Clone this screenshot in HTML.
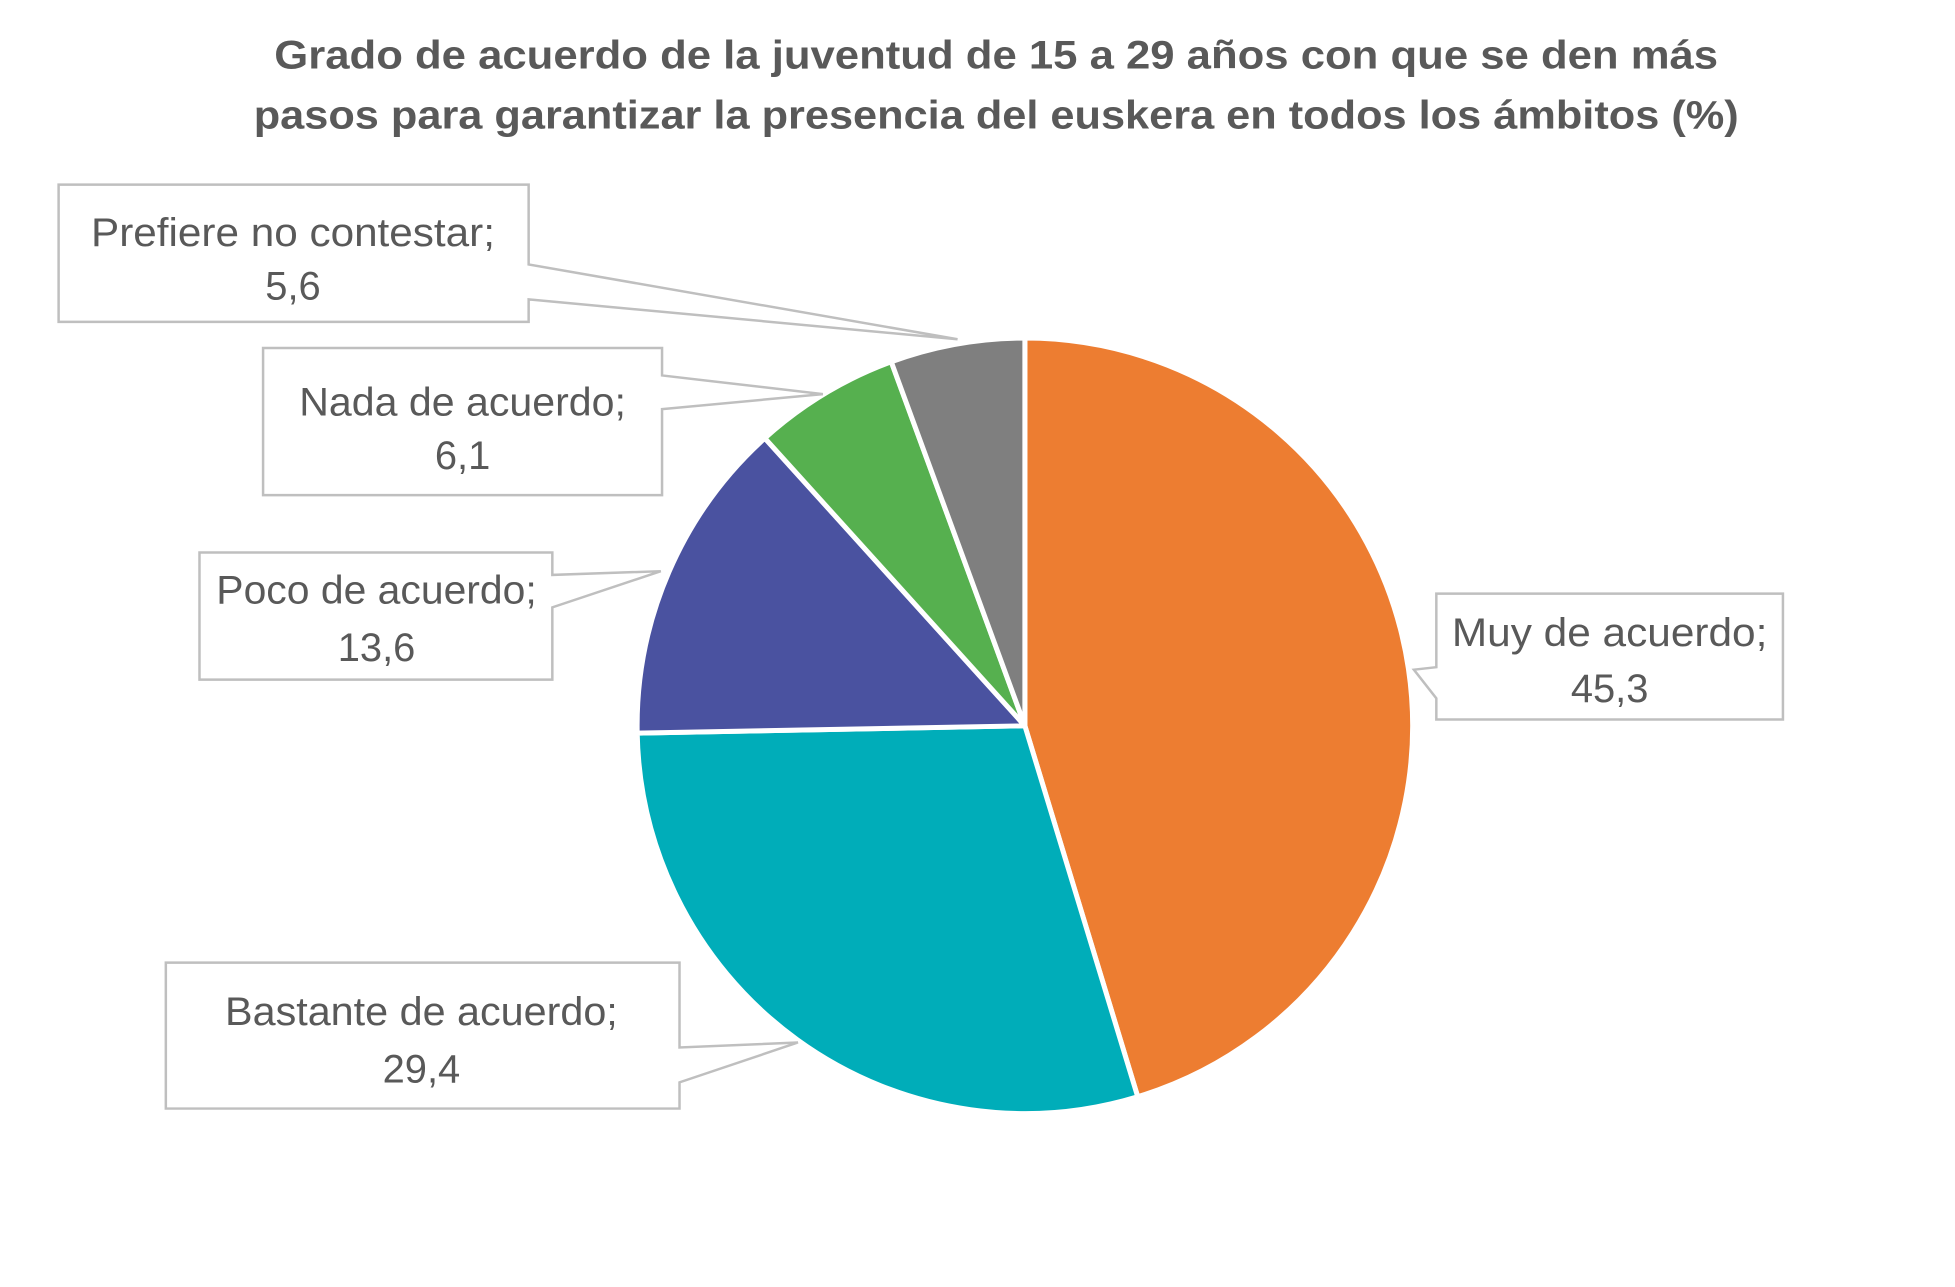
<!DOCTYPE html>
<html><head><meta charset="utf-8"><style>
html,body{margin:0;padding:0;background:#fff;}
svg{display:block;}
text{font-family:"Liberation Sans",sans-serif;fill:#595959;}
</style></head><body>
<svg width="1955" height="1287" viewBox="0 0 1568 1032" xmlns="http://www.w3.org/2000/svg">
<rect width="1568" height="1032" fill="#fff"/>
<text x="799" y="55" text-anchor="middle" font-size="32" font-weight="bold" textLength="1158" lengthAdjust="spacingAndGlyphs">Grado de acuerdo de la juventud de 15 a 29 años con que se den más</text>
<text x="799" y="103" text-anchor="middle" font-size="32" font-weight="bold" textLength="1191" lengthAdjust="spacingAndGlyphs">pasos para garantizar la presencia del euskera en todos los ámbitos (%)</text>
<g id="pie" stroke="#fff" stroke-width="4" stroke-linejoin="round"></g>
<g fill="#fff" stroke="#bfbfbf" stroke-width="2">
<path d="M47,148 H424 V212 L768,272 L424,240 V258 H47 Z"/>
<path d="M211,279 H531 V301 L660,316 L531,328 V397 H211 Z"/>
<path d="M160,443 H443 V461 L530,458 L443,487 V545 H160 Z"/>
<path d="M1152,476 H1430 V577 H1152 V560 L1134,537 L1152,535 Z"/>
<path d="M133,772 H545 V840 L640,836 L545,868 V889 H133 Z"/>
</g>
<g font-size="32" text-anchor="middle">
<text x="235" y="197" textLength="324" lengthAdjust="spacingAndGlyphs">Prefiere no contestar;</text>
<text x="235" y="240">5,6</text>
<text x="371" y="333" textLength="262" lengthAdjust="spacingAndGlyphs">Nada de acuerdo;</text>
<text x="371" y="376">6,1</text>
<text x="302" y="484" textLength="257" lengthAdjust="spacingAndGlyphs">Poco de acuerdo;</text>
<text x="302" y="530">13,6</text>
<text x="1291" y="518" textLength="253" lengthAdjust="spacingAndGlyphs">Muy de acuerdo;</text>
<text x="1291" y="563">45,3</text>
<text x="338" y="822" textLength="315" lengthAdjust="spacingAndGlyphs">Bastante de acuerdo;</text>
<text x="338" y="868">29,4</text>
</g>
<script>
(function(){
var cx=822,cy=582,r=311;
var d=[[45.3,"#ED7D31"],[29.4,"#00ADB9"],[13.6,"#4A52A0"],[6.1,"#56B04F"],[5.6,"#7F7F7F"]];
var g=document.getElementById("pie"),a=0,ns="http://www.w3.org/2000/svg";
d.forEach(function(s){
var a2=a+s[0]/100*2*Math.PI;
var x1=cx+r*Math.sin(a),y1=cy-r*Math.cos(a),x2=cx+r*Math.sin(a2),y2=cy-r*Math.cos(a2);
var p=document.createElementNS(ns,"path");
p.setAttribute("d","M"+cx+","+cy+" L"+x1+","+y1+" A"+r+","+r+" 0 "+((a2-a)>Math.PI?1:0)+" 1 "+x2+","+y2+" Z");
p.setAttribute("fill",s[1]);g.appendChild(p);a=a2;});
})();
</script>
</svg>
</body></html>
